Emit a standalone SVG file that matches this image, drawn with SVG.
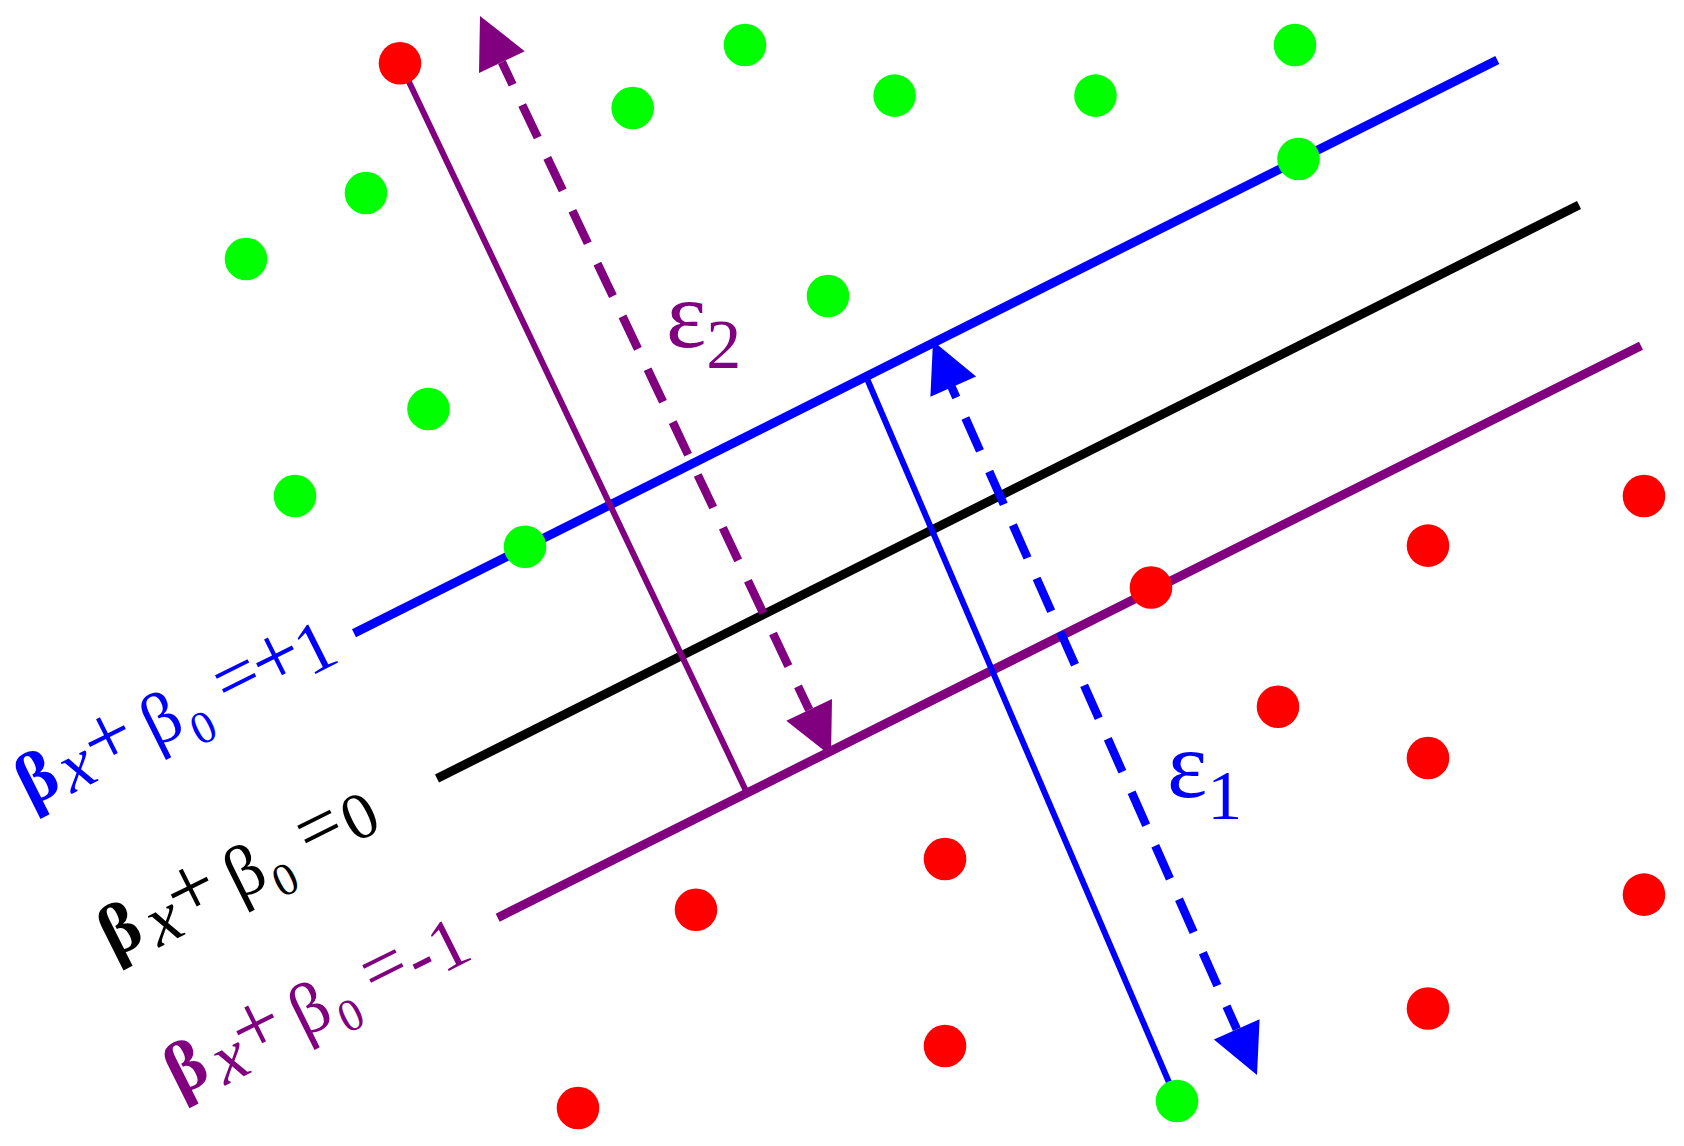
<svg xmlns="http://www.w3.org/2000/svg" width="1684" height="1146" viewBox="0 0 1684 1146">
<style>
.thick{stroke-width:9;fill:none;stroke-linecap:butt}
.thin{stroke-width:6;fill:none}
.dsh{stroke-width:8.5;fill:none;stroke-linecap:butt}
.red{fill:#ff0000}
.green{fill:#00ff00}
.lbl{font-family:"Liberation Serif","Times New Roman",serif;font-size:72px;text-anchor:middle}
.b{font-weight:bold}
.i{font-style:italic}
.pl{font-size:86px}
.eq{font-size:78px}
.sub{font-size:46px}
.eps{font-family:"Liberation Serif","Times New Roman",serif;font-size:96px}
</style>
<g id="connectors">
<line id="line-plus1" class="thick" stroke="#0000ff" x1="354" y1="633.3" x2="1497.3" y2="60"/>
<line id="line-zero" class="thick" stroke="#000000" x1="437" y1="778.5" x2="1579" y2="205"/>
<line id="line-minus1" class="thick" stroke="#800080" x1="497.7" y1="917.7" x2="1641" y2="345.7"/>
<line id="perp-purple" class="thin" stroke="#800080" x1="400" y1="63" x2="747" y2="793"/>
<line id="perp-blue" class="thin" stroke="#0000ff" x1="866.7" y1="378" x2="1177" y2="1101"/>
<g id="eps2-arrow" stroke="#800080" fill="#800080">
<polygon points="480,16 524.7,51.2 479,72.9" stroke="none"/>
<polygon points="831,756 832,699 786.3,720.7" stroke="none"/>
<path class="dsh" d="M501.9,62.1 L512.6,84.7 M522.2,105 L537.7,137.5 M547.3,157.9 L562.7,190.4 M572.4,210.7 L587.8,243.2 M597.4,263.6 L612.9,296.1 M622.5,316.4 L637.9,348.9 M647.6,369.3 L663,401.8 M672.7,422.1 L688.1,454.7 M697.7,475 L713.2,507.5 M722.8,527.8 L738.2,560.4 M747.9,580.7 L763.3,613.2 M773,633.5 L788.4,666.1 M798,686.4 L809.2,709.9"/>
</g>
<g id="eps1-arrow" stroke="#0000ff" fill="#0000ff">
<polygon points="933,341 976.1,376.6 930.4,396.8" stroke="none"/>
<polygon points="1257,1075 1259.6,1019.2 1213.9,1039.5" stroke="none"/>
<path class="dsh" d="M951.5,386.7 L956.3,397.5 M965.4,418 L980,450.9 M989.2,471.5 L1003.8,504.4 M1012.9,525 L1027.5,557.9 M1036.6,578.4 L1051.2,611.3 M1060.4,631.9 L1075,664.8 M1084.1,685.4 L1098.7,718.3 M1107.8,738.8 L1122.4,771.8 M1131.6,792.3 L1146.2,825.2 M1155.3,845.8 L1169.9,878.7 M1179,899.3 L1193.6,932.2 M1202.8,952.7 L1217.4,985.6 M1226.5,1006.2 L1236.8,1029.3"/>
</g>
</g>
<g id="red-points">
<circle id="r1" class="red" cx="400" cy="63.3" r="21.3"/>
<circle id="r2" class="red" cx="1644" cy="496" r="21.3"/>
<circle id="r3" class="red" cx="1428" cy="545.6" r="21.3"/>
<circle id="r4" class="red" cx="1151" cy="587.5" r="21.3"/>
<circle id="r5" class="red" cx="1278" cy="706.7" r="21.3"/>
<circle id="r6" class="red" cx="1428" cy="758" r="21.3"/>
<circle id="r7" class="red" cx="945" cy="859" r="21.3"/>
<circle id="r8" class="red" cx="696" cy="909.7" r="21.3"/>
<circle id="r9" class="red" cx="1644" cy="894.6" r="21.3"/>
<circle id="r10" class="red" cx="1428" cy="1008.5" r="21.3"/>
<circle id="r11" class="red" cx="945" cy="1046" r="21.3"/>
<circle id="r12" class="red" cx="578" cy="1108" r="21.3"/>
</g>
<g id="green-points">
<circle id="g1" class="green" cx="745" cy="45" r="21.3"/>
<circle id="g2" class="green" cx="1295" cy="45" r="21.3"/>
<circle id="g3" class="green" cx="632.7" cy="108" r="21.3"/>
<circle id="g4" class="green" cx="894.6" cy="95.6" r="21.3"/>
<circle id="g5" class="green" cx="1095.5" cy="95.6" r="21.3"/>
<circle id="g6" class="green" cx="1298.5" cy="159" r="21.3"/>
<circle id="g7" class="green" cx="366" cy="193" r="21.3"/>
<circle id="g8" class="green" cx="246" cy="259" r="21.3"/>
<circle id="g9" class="green" cx="828" cy="296" r="21.3"/>
<circle id="g10" class="green" cx="428.5" cy="409" r="21.3"/>
<circle id="g11" class="green" cx="295" cy="496" r="21.3"/>
<circle id="g12" class="green" cx="525" cy="546.7" r="21.3"/>
<circle id="g13" class="green" cx="1177" cy="1101" r="21.3"/>
</g>
<g id="label-plus1">
<text class="lbl" fill="#0000ff" transform="translate(110,742.3) rotate(-26.57)"><tspan class="b" x="-81.5" y="22">β</tspan><tspan class="i" x="-41" y="29">x</tspan><tspan class="pl" x="0" y="21.5">+</tspan><tspan x="47" y="25.5"> β</tspan><tspan class="sub" x="89.9" y="43.7">0</tspan><tspan class="eq" x="132.2" y="22.7"> =</tspan><tspan class="pl" x="185.9" y="25.4">+</tspan><tspan x="226" y="30.8">1</tspan></text>
</g>
<g id="label-zero">
<text class="lbl" fill="#000000" transform="translate(192.7,894) rotate(-26.57)"><tspan class="b" x="-81.3" y="22.1">β</tspan><tspan class="i" x="-38" y="32.7">x</tspan><tspan class="pl" x="0" y="21.5">+</tspan><tspan x="47.3" y="26.4"> β</tspan><tspan class="sub" x="89.2" y="43.7">0</tspan><tspan class="eq" x="132.4" y="21.5"> =</tspan><tspan x="183.9" y="27" font-size="66">0</tspan></text>
</g>
<g id="label-minus1">
<text class="lbl" fill="#800080" transform="translate(258.3,1030.7) rotate(-26.57)"><tspan class="b" x="-81.4" y="23.2">β</tspan><tspan class="i" x="-38" y="34.2">x</tspan><tspan class="pl" x="0" y="21.5">+</tspan><tspan x="46.3" y="27"> β</tspan><tspan class="sub" x="89.6" y="42.8">0</tspan><tspan class="eq" x="130.6" y="23.7"> =</tspan><tspan x="176.8" y="29.6">-</tspan><tspan x="208.7" y="31.8">1</tspan></text>
</g>
<g id="label-eps2">
<text class="eps" fill="#800080" x="666" y="346.7">ε<tspan font-size="70" dy="21.6">2</tspan></text>
</g>
<g id="label-eps1">
<text class="eps" fill="#0000ff" x="1167" y="797.3">ε<tspan font-size="70" dy="21.7">1</tspan></text>
</g>
</svg>
